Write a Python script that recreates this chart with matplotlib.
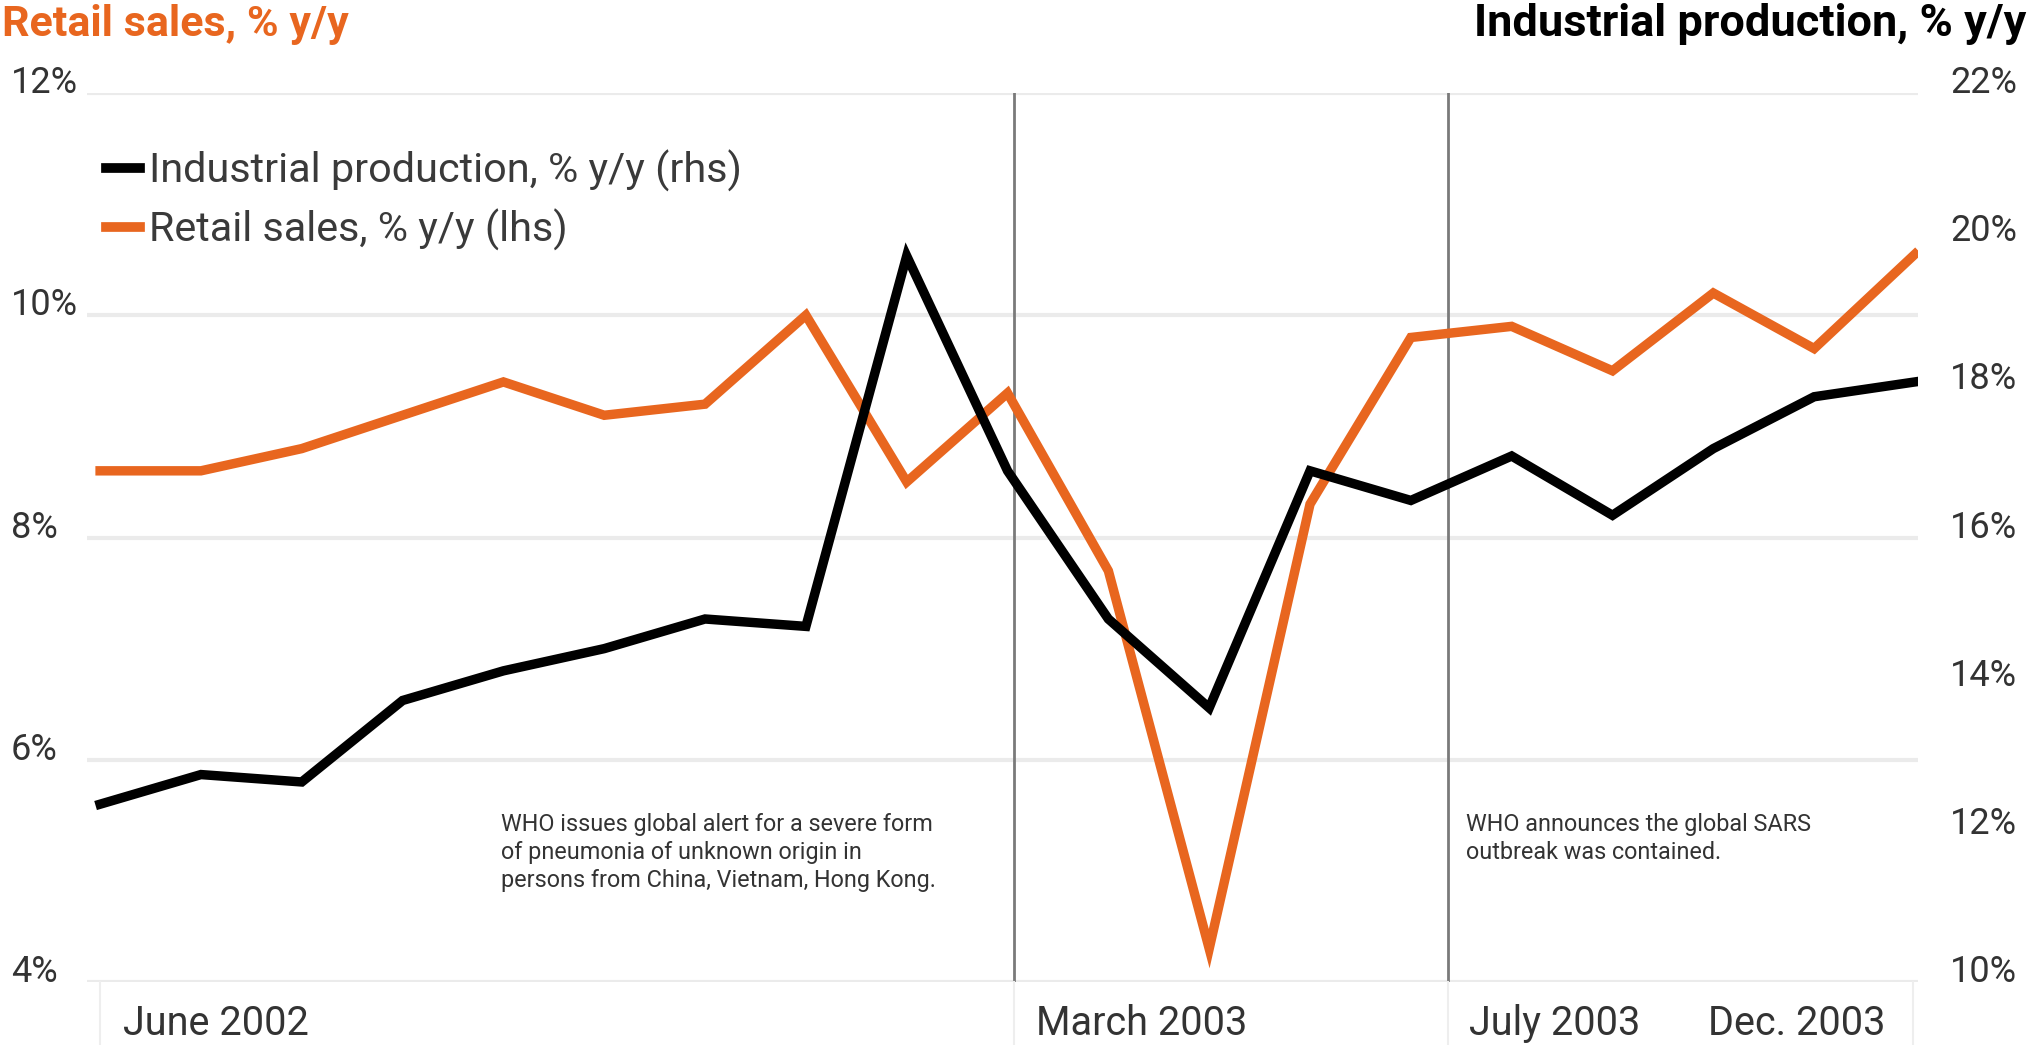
import matplotlib.pyplot as plt
from matplotlib.lines import Line2D

# monthly data, June 2002 .. Dec 2003
months = ["Jun 2002", "Jul 2002", "Aug 2002", "Sep 2002", "Oct 2002", "Nov 2002",
          "Dec 2002", "Jan 2003", "Feb 2003", "Mar 2003", "Apr 2003", "May 2003",
          "Jun 2003", "Jul 2003", "Aug 2003", "Sep 2003", "Oct 2003", "Nov 2003",
          "Dec 2003"]
retail_sales = [8.6, 8.6, 8.8, 9.1, 9.4, 9.1, 9.2, 10.0, 8.5, 9.3,
                7.7, 4.3, 8.3, 9.8, 9.9, 9.5, 10.2, 9.7, 10.55]
industrial_prod = [12.4, 12.8, 12.7, 13.8, 14.2, 14.5, 14.9, 14.8, 19.8, 16.9,
                   14.9, 13.7, 16.9, 16.5, 17.1, 16.3, 17.2, 17.9, 18.1]

left_ticks = [4, 6, 8, 10, 12]
right_ticks = [10, 12, 14, 16, 18, 20, 22]

# event markers (month index) and notes
event_x = [9.06, 13.37]
event_notes = ["WHO issues global alert for a severe form\nof pneumonia of unknown origin in\npersons from China, Vietnam, Hong Kong.",
               "WHO announces the global SARS\noutbreak was contained."]

date_labels = ["June 2002", "March 2003", "July 2003", "Dec. 2003"]
date_label_x = [0.23, 9.28, 13.58, 15.95]

ORANGE = "#E8661F"
TEXT = "#333333"

plt.rcParams['font.family'] = ['Roboto', 'DejaVu Sans']

fig = plt.figure(figsize=(20.29, 10.45), dpi=100)
ax = fig.add_axes([87 / 2029, 63 / 1045, 1831 / 2029, 889 / 1045])
ax2 = ax.twinx()

x = list(range(len(months)))

ax.set_xlim(-0.13, 18.03)
ax.set_ylim(4, 12)
ax2.set_ylim(10, 22)

# grid
for v in left_ticks:
    ax.axhline(v, color="#ebebeb", lw=3, zorder=0)

for ex in event_x:
    ax.axvline(ex, color="#7a7a7a", lw=2, zorder=1)
    ax.plot([ex, ex], [0, -0.075], transform=ax.get_xaxis_transform(),
            color="#eeeeee", lw=1.5, clip_on=False)
for ex in [0, 17.98]:
    ax.plot([ex, ex], [0, -0.075], transform=ax.get_xaxis_transform(),
            color="#eeeeee", lw=1.5, clip_on=False)

ax.plot(x, retail_sales, color=ORANGE, lw=6.8, solid_joinstyle="miter", zorder=3)
ax2.plot(x, industrial_prod, color="black", lw=6.8, solid_joinstyle="miter", zorder=3)

for a in (ax, ax2):
    for s in a.spines.values():
        s.set_visible(False)

ax.set_yticks(left_ticks)
ax.set_yticklabels([f"{v}%" for v in left_ticks])
ax.tick_params(axis="y", length=0, pad=55, labelsize=26, labelcolor=TEXT)
for lbl in ax.get_yticklabels():
    lbl.set_horizontalalignment("left")
    lbl.set_verticalalignment("baseline")

ax2.set_yticks(right_ticks)
ax2.set_yticklabels([f"{v}%" for v in right_ticks])
ax2.tick_params(axis="y", length=0, pad=23, labelsize=26, labelcolor=TEXT)
for lbl in ax2.get_yticklabels():
    lbl.set_verticalalignment("baseline")

ax.set_xticks(date_label_x)
ax.set_xticklabels(date_labels)
ax.tick_params(axis="x", length=0, pad=16, labelsize=28.5, labelcolor=TEXT)
for lbl in ax.get_xticklabels():
    lbl.set_horizontalalignment("left")

# annotations
ax.text(0.2261, 0.19, event_notes[0], transform=ax.transAxes, ha="left", va="top",
        fontsize=16.8, color=TEXT, linespacing=1.28)
ax.text(0.7531, 0.19, event_notes[1], transform=ax.transAxes, ha="left", va="top",
        fontsize=16.8, color=TEXT, linespacing=1.28)

# axis titles
fig.text(2 / 2029, 1 - 4 / 1045, "Retail sales, % y/y", ha="left", va="top",
         fontsize=31, fontweight="bold", color=ORANGE)
fig.text(2026 / 2029, 1 - 3 / 1045, "Industrial production, % y/y", ha="right", va="top",
         fontsize=32.5, fontweight="bold", color="black")

handles = [Line2D([], [], color="black", lw=7),
           Line2D([], [], color=ORANGE, lw=7)]
ax.legend(handles, ["Industrial production, % y/y (rhs)", "Retail sales, % y/y (lhs)"],
          loc="upper left", bbox_to_anchor=(106 / 2029, 1 - 150 / 1045),
          bbox_transform=fig.transFigure, frameon=False, fontsize=29.8,
          handlelength=0.83, handletextpad=0.22, labelspacing=0.4,
          borderpad=0, borderaxespad=0, labelcolor="#3a3a3a")

fig.savefig("out.png", dpi=100)
